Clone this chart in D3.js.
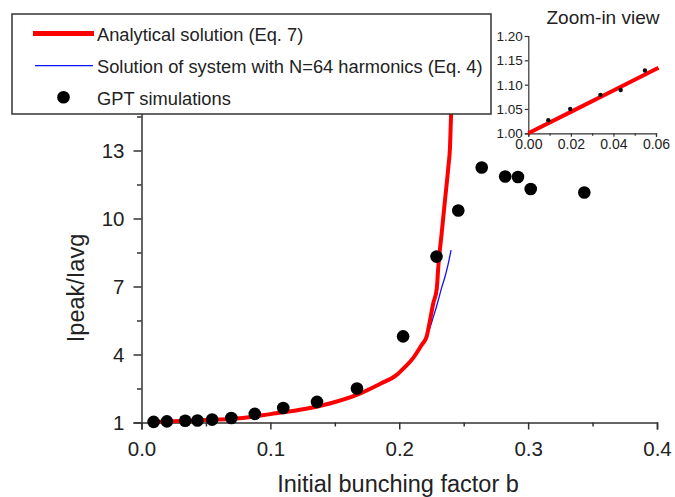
<!DOCTYPE html>
<html>
<head>
<meta charset="utf-8">
<script src="https://cdn.jsdelivr.net/npm/d3@7"></script>
<style>
  body { margin: 0; background: #fff; }
  svg { display: block; }
  text { font-family: "Liberation Sans", Arial, Helvetica, sans-serif; fill: #222; }
</style>
</head>
<body>
<svg id="chart" width="675" height="497"></svg>
<script>
// GPT simulation points: initial bunching factor b and Ipeak/Iavg
const gptB = [0.0094, 0.0197, 0.0339, 0.0434, 0.0548, 0.0697, 0.0879, 0.1100, 0.1362, 0.1672,
              0.2030, 0.2289, 0.2458, 0.2640, 0.2822, 0.2921, 0.3020, 0.3436];
const gptI = [1.027, 1.050, 1.079, 1.089, 1.129, 1.20, 1.38, 1.64, 1.91, 2.50,
              4.80, 8.32, 10.35, 12.25, 11.85, 11.83, 11.30, 11.15];

// Analytical solution (Eq. 7)
const analyticB = [0.008, 0.020, 0.040, 0.060, 0.076, 0.100, 0.123, 0.146, 0.167, 0.185,
                   0.198, 0.2045, 0.2109, 0.2174, 0.2213, 0.2239, 0.2264, 0.2291, 0.2303,
                   0.2329, 0.2355, 0.2381, 0.2394, 0.2402, 0.2412];
const analyticI = [1.018, 1.044, 1.088, 1.132, 1.19, 1.37, 1.56, 1.84, 2.22, 2.70,
                   3.10, 3.45, 3.85, 4.42, 4.80, 5.52, 6.26, 6.90, 7.87,
                   9.34, 10.81, 12.28, 13.17, 14.56, 16.00];

// System with N=64 harmonics (Eq. 4)
const harmonicB = [0.008, 0.020, 0.040, 0.060, 0.076, 0.100, 0.123, 0.146, 0.167, 0.185,
                   0.198, 0.2045, 0.2109, 0.2174, 0.2213, 0.2239, 0.2264, 0.2291, 0.2303,
                   0.2329, 0.2355, 0.2380, 0.2402];
const harmonicI = [1.018, 1.044, 1.088, 1.132, 1.19, 1.37, 1.56, 1.84, 2.22, 2.70,
                   3.10, 3.45, 3.85, 4.42, 4.80, 5.20, 5.65, 6.15, 6.40,
                   6.95, 7.43, 8.00, 8.61];

// Analytical solution over the zoomed range
const zoomLineB = [0.000, 0.020, 0.040, 0.060, 0.0612];
const zoomLineI = [1.000, 1.044, 1.088, 1.132, 1.1345];

// Tick values
const xTicks = [0, 0.1, 0.2, 0.3, 0.4];
const xMinorTicks = [0.05, 0.15, 0.25, 0.35];
const yTicks = [1, 4, 7, 10, 13];
const yMinorTicks = [2.5, 5.5, 8.5, 11.5, 14.5];
const zoomXTicks = [0, 0.02, 0.04, 0.06];
const zoomXMinorTicks = [0.01, 0.03, 0.05];
const zoomYTicks = [1.00, 1.05, 1.10, 1.15, 1.20];

const legendLabels = ["Analytical solution (Eq. 7)",
                      "Solution of system with N=64 harmonics (Eq. 4)",
                      "GPT simulations"];

const svg = d3.select("#chart");
const AXIS = "#333";

// ---------- main panel ----------
const x = d3.scaleLinear().domain([0, 0.4]).range([141.5, 657]);
const y = d3.scaleLinear().domain([1, 16]).range([422.5, 82.5]);

svg.append("clipPath").attr("id", "plotClip")
  .append("rect").attr("x", 141.5).attr("y", 82.5).attr("width", 520).attr("height", 345);

function styleAxis(g, width) {
  g.select(".domain").attr("stroke", AXIS).attr("stroke-width", width);
  g.selectAll(".tick line").attr("stroke", AXIS).attr("stroke-width", width);
}

// minor ticks
const gxm = svg.append("g").attr("transform", `translate(0,${y(1)})`)
  .call(d3.axisBottom(x).tickValues(xMinorTicks).tickSize(4).tickFormat(""));
gxm.select(".domain").remove();
styleAxis(gxm, 1.5);
const gym = svg.append("g").attr("transform", `translate(${x(0)},0)`)
  .call(d3.axisLeft(y).tickValues(yMinorTicks).tickSize(4.5).tickFormat(""));
gym.select(".domain").remove();
styleAxis(gym, 1.5);

// major axes
const gx = svg.append("g").attr("transform", `translate(0,${y(1)})`)
  .call(d3.axisBottom(x).tickValues(xTicks).tickSizeOuter(0).tickSize(7).tickFormat(d3.format(".1f")));
styleAxis(gx, 1.5);
gx.selectAll(".tick text").attr("y", 33).attr("dy", 0)
  .style("font-size", "20.5px").attr("fill", "#222");

const gy = svg.append("g").attr("transform", `translate(${x(0)},0)`)
  .call(d3.axisLeft(y).tickValues(yTicks).tickSizeOuter(0).tickSize(8).tickFormat(d3.format("d")));
styleAxis(gy, 1.5);
gy.selectAll(".tick text").attr("x", -17).attr("dy", "0.36em")
  .style("font-size", "20.5px").attr("fill", "#222");

// axis titles
svg.append("text").attr("x", 398).attr("y", 492).attr("text-anchor", "middle")
  .style("font-size", "23.5px").text("Initial bunching factor b");
svg.append("text").attr("transform", "translate(84,288) rotate(-90)").attr("text-anchor", "middle")
  .style("font-size", "23.5px").text("Ipeak/Iavg");

const plot = svg.append("g").attr("clip-path", "url(#plotClip)");
const line = d3.line().x(d => x(d[0])).y(d => y(d[1])).curve(d3.curveMonotoneX);

plot.append("path").datum(d3.zip(harmonicB, harmonicI))
  .attr("d", line).attr("fill", "none").attr("stroke", "#1010ff").attr("stroke-width", 1.3);
plot.append("path").datum(d3.zip(analyticB, analyticI))
  .attr("d", line).attr("fill", "none").attr("stroke", "#ff0000").attr("stroke-width", 4);

svg.append("g").selectAll("circle").data(d3.zip(gptB, gptI)).join("circle")
  .attr("cx", d => x(d[0])).attr("cy", d => y(d[1])).attr("r", 6.3).attr("fill", "#000");

// ---------- legend ----------
const leg = svg.append("g");
leg.append("rect").attr("x", 12).attr("y", 14).attr("width", 479).attr("height", 100)
  .attr("fill", "#fff").attr("stroke", AXIS).attr("stroke-width", 1.5);
leg.append("line").attr("x1", 33).attr("x2", 94).attr("y1", 33.5).attr("y2", 33.5)
  .attr("stroke", "#ff0000").attr("stroke-width", 5);
leg.append("line").attr("x1", 35).attr("x2", 93).attr("y1", 65.7).attr("y2", 65.7)
  .attr("stroke", "#1010ff").attr("stroke-width", 1.3);
leg.append("circle").attr("cx", 63.5).attr("cy", 97.3).attr("r", 6.3).attr("fill", "#000");
leg.selectAll("text.lab").data(legendLabels).join("text").attr("class", "lab")
  .attr("x", 97).attr("y", (d, i) => 41.2 + i * 31.8)
  .style("font-size", "18.3px").text(d => d);

// ---------- inset: zoom-in view ----------
const zx = d3.scaleLinear().domain([0, 0.06]).range([528.3, 656]);
const zy = d3.scaleLinear().domain([1.0, 1.2]).range([133.3, 36]);

const zxm = svg.append("g").attr("transform", `translate(0,${zy(1)})`)
  .call(d3.axisBottom(zx).tickValues(zoomXMinorTicks).tickSize(2.5).tickFormat(""));
zxm.select(".domain").remove();
styleAxis(zxm, 1.2);

const zgx = svg.append("g").attr("transform", `translate(0,${zy(1)})`)
  .call(d3.axisBottom(zx).tickValues(zoomXTicks).tickSizeOuter(0).tickSize(3.5).tickFormat(d3.format(".2f")));
styleAxis(zgx, 1.2);
zgx.selectAll(".tick text").attr("y", 15.8).attr("dy", 0)
  .style("font-size", "14px").attr("fill", "#222");

const zgy = svg.append("g").attr("transform", `translate(${zx(0)},0)`)
  .call(d3.axisLeft(zy).tickValues(zoomYTicks).tickSizeOuter(0).tickSize(3.5).tickFormat(d3.format(".2f")));
styleAxis(zgy, 1.2);
zgy.selectAll(".tick text").attr("x", -5.5).attr("dy", "0.33em")
  .style("font-size", "13.5px").attr("fill", "#222");

svg.append("text").attr("x", 603).attr("y", 24).attr("text-anchor", "middle")
  .style("font-size", "19px").text("Zoom-in view");

const zline = d3.line().x(d => zx(d[0])).y(d => zy(d[1]));
svg.append("path").datum(d3.zip(zoomLineB, zoomLineI))
  .attr("d", zline).attr("fill", "none").attr("stroke", "#ff0000").attr("stroke-width", 4);

svg.append("g").selectAll("circle")
  .data(d3.zip(gptB, gptI).filter(d => d[0] <= 0.06)).join("circle")
  .attr("cx", d => zx(d[0])).attr("cy", d => zy(d[1])).attr("r", 2.2).attr("fill", "#111");
</script>
</body>
</html>
